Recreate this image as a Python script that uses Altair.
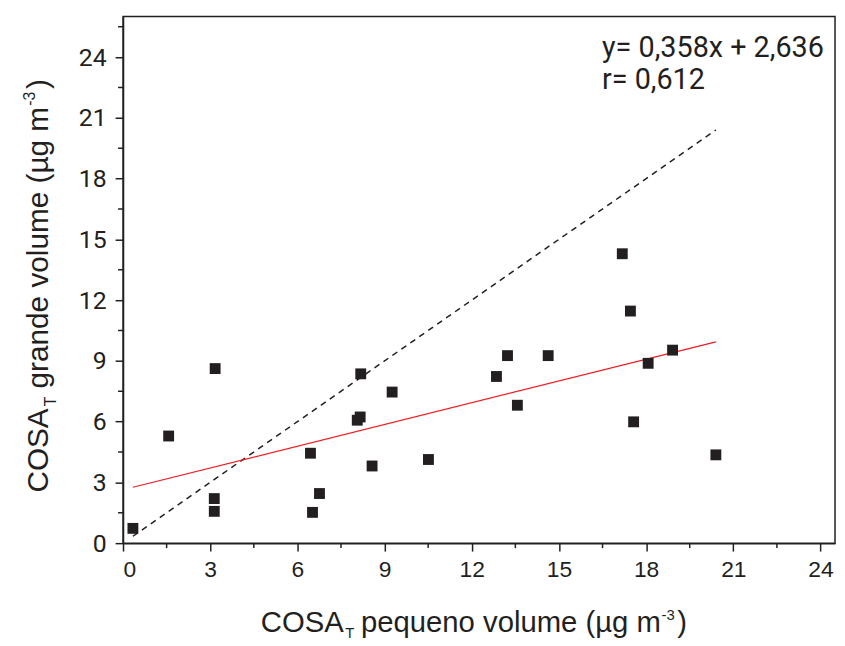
import altair as alt
import pandas as pd

# ---- data ----
x_vals = [0.34, 1.57, 3.17, 3.14, 3.14, 6.45, 6.52, 6.76, 8.06, 8.16, 8.18, 8.57,
          9.26, 10.51, 12.85, 13.23, 13.57, 14.63, 17.18, 17.46, 17.57, 18.07, 18.91, 20.40]
y_vals = [0.73, 5.29, 8.62, 2.20, 1.57, 4.44, 1.52, 2.45, 6.07, 6.23, 8.36, 3.81,
          7.46, 4.13, 8.23, 9.26, 6.81, 9.26, 14.29, 11.46, 5.99, 8.88, 9.53, 4.36]
fit_x = [0.34, 20.40]
fit_y = [2.76, 9.94]
ident_x = [0.34, 20.40]
ident_y = [0.34, 20.40]
major_ticks = [0, 3, 6, 9, 12, 15, 18, 21, 24]
x_minor = [1.5, 4.5, 7.5, 10.5, 13.5, 16.5, 19.5, 22.5]
y_minor = [1.5, 4.5, 7.5, 10.5, 13.5, 16.5, 19.5, 22.5, 25.5]
eq_text = "y= 0,358x + 2,636"
r_text = "r= 0,612"

W, H = 718, 531
OX, OY = 124, 14  # page position of plot origin (for titles)

XF = "Liberation Sans"
YF = "Liberation Sans"
AF = "Roboto"
INK = "#231f20"

xs = alt.Scale(domain=[0, 24.5], nice=False, zero=False)
ys = alt.Scale(domain=[0, 26], nice=False, zero=False)

xaxis = alt.Axis(values=major_ticks, title=None, tickSize=8, labelPadding=8,
                 labelFont=XF, labelFontSize=23, grid=False)
yaxis = alt.Axis(values=major_ticks, title=None, tickSize=8, labelPadding=9,
                 labelFont=AF, labelFontSize=25, grid=False)

pts = pd.DataFrame({"x": x_vals, "y": y_vals})

points = alt.Chart(pts).mark_square(size=120, color=INK, opacity=1).encode(
    x=alt.X("x:Q", scale=xs, axis=xaxis),
    y=alt.Y("y:Q", scale=ys, axis=yaxis),
)

fit = alt.Chart(pd.DataFrame({"x": fit_x, "y": fit_y})).mark_line(
    color="#ee1c25", strokeWidth=1.2).encode(
    x=alt.X("x:Q", scale=xs, axis=xaxis),
    y=alt.Y("y:Q", scale=ys, axis=yaxis),
)

ident = alt.Chart(pd.DataFrame({"x": ident_x, "y": ident_y})).mark_line(
    color=INK, strokeWidth=1.5, strokeDash=[6, 5]).encode(
    x=alt.X("x:Q", scale=xs, axis=xaxis),
    y=alt.Y("y:Q", scale=ys, axis=yaxis),
)

xmin = alt.Chart(pd.DataFrame({"v": x_minor})).mark_rule(
    color=INK, strokeWidth=1.5).encode(
    x=alt.X("v:Q", scale=xs, axis=xaxis),
    y=alt.value(H), y2=alt.value(H + 5),
)
ymin = alt.Chart(pd.DataFrame({"v": y_minor})).mark_rule(
    color=INK, strokeWidth=1.5).encode(
    y=alt.Y("v:Q", scale=ys, axis=yaxis),
    x=alt.value(0), x2=alt.value(-5),
)


def txt(s, px, py, size, font, align="left", angle=0):
    return alt.Chart(pd.DataFrame({"t": [s]})).mark_text(
        align=align, baseline="alphabetic", font=font, fontSize=size,
        color=INK, angle=angle).encode(
        text="t:N", x=alt.value(px - OX), y=alt.value(py - OY))


titles = [
    # annotation
    txt(eq_text, 607, 55, 29, AF),
    txt(r_text, 607, 87, 29, AF),
    # x title
    txt("COSA", 263, 635, 29.5, XF),
    txt("T", 348, 641, 15, XF),
    txt("pequeno volume (\u00b5g m", 364, 635, 29.5, XF),
    txt("-3", 667, 623, 15, XF),
    txt(")", 683, 635, 29.5, XF),
    # y title (rotated)
    txt("COSA", 48, 494, 30, YF, angle=270),
    txt("T", 56, 407, 16, YF, angle=270),
    txt("grande volume (\u00b5g m", 48, 389, 30, YF, angle=270),
    txt("-3", 35, 104, 16, YF, angle=270),
    txt(")", 48, 87, 30, YF, angle=270),
]

chart = alt.layer(ident, fit, points, xmin, ymin, *titles).properties(
    width=W, height=H,
    autosize=alt.AutoSizeParams(type="none"),
    padding={"left": 116, "top": 6, "right": 2, "bottom": 95},
).configure_view(
    stroke=INK, strokeWidth=1.5
).configure_axis(
    domainColor=INK, domainWidth=1.5, tickColor=INK, tickWidth=1.5,
    labelColor=INK, grid=False
)

chart.save("out.html", embed_options={"renderer": "svg", "actions": False})
